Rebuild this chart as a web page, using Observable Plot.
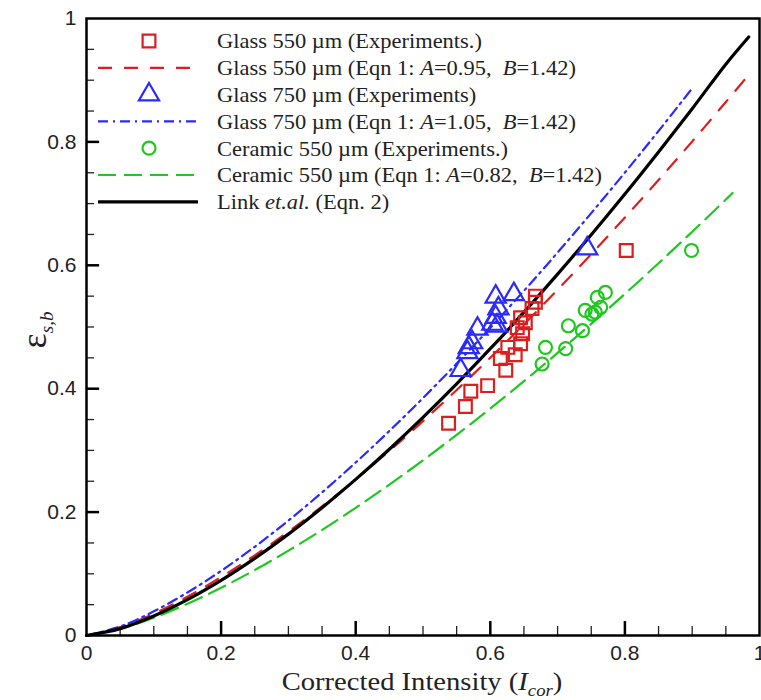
<!DOCTYPE html>
<html><head><meta charset="utf-8">
<script src="https://cdn.jsdelivr.net/npm/d3@7"></script>
<script src="https://cdn.jsdelivr.net/npm/@observablehq/plot@0.6"></script>
<style>body{margin:0;background:#fff}#chart{width:761px;height:700px}</style>
</head><body><div id="chart"></div>
<script>
// ---- data ----
const majorTicks = [0, 0.2, 0.4, 0.6, 0.8, 1];
const tickLabels = ["0", "0.2", "0.4", "0.6", "0.8", "1"];
const minorTicks = [0.05,0.1,0.15,0.25,0.3,0.35,0.45,0.5,0.55,0.65,0.7,0.75,0.85,0.9,0.95];

const glass550Exp = [[0.538,0.344],[0.563,0.371],[0.571,0.396],[0.596,0.405],[0.623,0.430],[0.615,0.449],[0.637,0.455],[0.626,0.467],[0.645,0.473],[0.648,0.489],[0.640,0.499],[0.652,0.507],[0.645,0.515],[0.662,0.530],[0.667,0.540],[0.667,0.550],[0.802,0.624]];
const glass750Exp = [[0.556,0.430],[0.566,0.459],[0.568,0.467],[0.573,0.475],[0.581,0.497],[0.603,0.505],[0.610,0.502],[0.608,0.516],[0.612,0.530],[0.608,0.549],[0.635,0.553],[0.744,0.627]];
const ceramic550Exp = [[0.677,0.440],[0.682,0.467],[0.712,0.465],[0.716,0.502],[0.737,0.494],[0.741,0.527],[0.751,0.521],[0.756,0.524],[0.764,0.532],[0.759,0.548],[0.771,0.556],[0.899,0.624]];

const glass550Fit = [[0,0],[0.05,0.0132],[0.1,0.0354],[0.15,0.0629],[0.2,0.0946],[0.25,0.1299],[0.3,0.1682],[0.35,0.2094],[0.4,0.2532],[0.45,0.2992],[0.5,0.3475],[0.55,0.3979],[0.6,0.4502],[0.65,0.5044],[0.7,0.5604],[0.75,0.6181],[0.8,0.6774],[0.85,0.7383],[0.9,0.8008],[0.95,0.8647],[0.983,0.9076]];
const glass750Fit = [[0,0],[0.05,0.0146],[0.1,0.0392],[0.15,0.0697],[0.2,0.1048],[0.25,0.1438],[0.3,0.1863],[0.35,0.2319],[0.4,0.2804],[0.45,0.3314],[0.5,0.3849],[0.55,0.4407],[0.6,0.4987],[0.65,0.5587],[0.7,0.6207],[0.75,0.6846],[0.8,0.7503],[0.85,0.8177],[0.9,0.8869]];
const ceramic550Fit = [[0,0],[0.05,0.0108],[0.1,0.0289],[0.15,0.0514],[0.2,0.0773],[0.25,0.1061],[0.3,0.1375],[0.35,0.1711],[0.4,0.2069],[0.45,0.2445],[0.5,0.2840],[0.55,0.3252],[0.6,0.3679],[0.65,0.4122],[0.7,0.4580],[0.75,0.5051],[0.8,0.5536],[0.85,0.6034],[0.9,0.6544],[0.95,0.7066],[0.96,0.7172]];
const linkEqn2 = [[0,0],[0.05,0.0112],[0.1,0.0316],[0.15,0.0581],[0.2,0.0894],[0.25,0.125],[0.3,0.1643],[0.35,0.2071],[0.4,0.2530],[0.45,0.3019],[0.5,0.3536],[0.55,0.4079],[0.6,0.4648],[0.65,0.5240],[0.7,0.5857],[0.75,0.6495],[0.8,0.7155],[0.85,0.7837],[0.9,0.8538],[0.95,0.9259],[0.984,0.970]];

const RED = "#dc1e1e", BLUE = "#2a2aff", GREEN = "#1ec81e";
const DASH_RED = "14,12", DASH_BLUE = "10,5,2,5", DASH_GREEN = "18,8";

const legendRows = [
  {kind:"square", color:RED, parts:[["Glass 550 µm (Experiments.)",false]]},
  {kind:"line", color:RED, dash:DASH_RED, w:2.2, parts:[["Glass 550 µm (Eqn 1: ",false],["A",true],["=0.95,  ",false],["B",true],["=1.42)",false]]},
  {kind:"triangle", color:BLUE, parts:[["Glass 750 µm (Experiments)",false]]},
  {kind:"line", color:BLUE, dash:DASH_BLUE, w:2.2, parts:[["Glass 750 µm (Eqn 1: ",false],["A",true],["=1.05,  ",false],["B",true],["=1.42)",false]]},
  {kind:"circle", color:GREEN, parts:[["Ceramic 550 µm (Experiments.)",false]]},
  {kind:"line", color:GREEN, dash:DASH_GREEN, w:2.2, parts:[["Ceramic 550 µm (Eqn 1: ",false],["A",true],["=0.82,  ",false],["B",true],["=1.42)",false]]},
  {kind:"line", color:"black", dash:null, w:3.2, parts:[["Link ",false],["et.al.",true],[" (Eqn. 2)",false]]}
];

const px = d => d[0], py = d => d[1];
const serif = "'Liberation Serif','Times New Roman',serif";

const svg = Plot.plot({
  width: 761, height: 700,
  marginLeft: 86, marginRight: 2, marginTop: 18, marginBottom: 65,
  style: {fontFamily: "'Liberation Sans', Arial, sans-serif", fontSize: "21px", color: "#222", background: "white", overflow: "visible"},
  x: {domain: [0, 1], ticks: majorTicks, tickFormat: d => tickLabels[majorTicks.indexOf(d)], tickSize: 0, tickPadding: 10, label: null},
  y: {domain: [0, 1], ticks: majorTicks, tickFormat: d => tickLabels[majorTicks.indexOf(d)], tickSize: 0, tickPadding: 10, label: null},
  marks: [
    Plot.ruleX(minorTicks, {x: d => d, y1: 0, y2: 0.0146, stroke: "#222", strokeWidth: 1.3}),
    Plot.ruleX(majorTicks.slice(1, -1), {x: d => d, y1: 0, y2: 0.0227, stroke: "black", strokeWidth: 2.5}),
    Plot.ruleY(minorTicks, {y: d => d, x1: 0, x2: 0.012, stroke: "#222", strokeWidth: 1.3}),
    Plot.ruleY(majorTicks.slice(1, -1), {y: d => d, x1: 0, x2: 0.0195, stroke: "black", strokeWidth: 2.5}),
    Plot.line(ceramic550Fit, {x: px, y: py, stroke: GREEN, strokeWidth: 2.2, strokeDasharray: DASH_GREEN, curve: "catmull-rom"}),
    Plot.line(glass550Fit, {x: px, y: py, stroke: RED, strokeWidth: 2.2, strokeDasharray: DASH_RED, curve: "catmull-rom"}),
    Plot.line(glass750Fit, {x: px, y: py, stroke: BLUE, strokeWidth: 2.2, strokeDasharray: DASH_BLUE, curve: "catmull-rom"}),
    Plot.line(linkEqn2, {x: px, y: py, stroke: "black", strokeWidth: 3.2, curve: "catmull-rom"}),
    Plot.dot(glass550Exp, {x: px, y: py, symbol: "square", r: 7.2, stroke: RED, strokeWidth: 2.2, fill: "none"}),
    Plot.dot(glass750Exp, {x: px, y: py, symbol: "triangle", r: 7.5, stroke: BLUE, strokeWidth: 2.2, fill: "none"}),
    Plot.dot(ceramic550Exp, {x: px, y: py, symbol: "circle", r: 6.5, stroke: GREEN, strokeWidth: 2.2, fill: "none"}),
    Plot.frame({stroke: "black", strokeWidth: 2.5})
  ]
});
document.getElementById("chart").appendChild(svg);

const s = d3.select(svg);
// legend
const lg = s.append("g").attr("class", "legend");
const rowY0 = 41, rowDy = 26.8;
legendRows.forEach((r, i) => {
  const y = rowY0 + i * rowDy;
  if (r.kind === "line") {
    lg.append("line").attr("x1", 98).attr("x2", 198).attr("y1", y).attr("y2", y)
      .attr("stroke", r.color).attr("stroke-width", r.w).attr("stroke-dasharray", r.dash);
  } else {
    const type = r.kind === "square" ? d3.symbolSquare : r.kind === "triangle" ? d3.symbolTriangle : d3.symbolCircle;
    const rr = r.kind === "square" ? 7.2 : r.kind === "triangle" ? 7.5 : 6.5;
    lg.append("path").attr("transform", `translate(149,${y})`)
      .attr("d", d3.symbol(type, Math.PI * rr * rr)())
      .attr("fill", "none").attr("stroke", r.color).attr("stroke-width", 2.2);
  }
  const t = lg.append("text").attr("transform", `translate(217,${y}) scale(1.07,1)`).attr("dy", "0.35em")
    .attr("text-anchor", "start")
    .attr("font-family", serif).attr("font-size", 21).attr("fill", "#222").style("white-space", "pre");
  r.parts.forEach(([txt, it]) => t.append("tspan").attr("font-style", it ? "italic" : "normal").text(txt));
});
// x axis title
const xt = s.append("text").attr("transform", "translate(422,690) scale(1.1,1)").attr("text-anchor", "middle")
  .attr("font-family", serif).attr("font-size", 26).attr("fill", "#222");
xt.append("tspan").text("Corrected Intensity (");
xt.append("tspan").attr("font-style", "italic").text("I");
xt.append("tspan").attr("font-style", "italic").attr("font-size", 17).attr("dy", 6).text("cor");
xt.append("tspan").attr("dy", -6).text(")");
// y axis title
const yt = s.append("text").attr("transform", "translate(46,330) rotate(-90)").attr("text-anchor", "middle")
  .attr("font-family", serif).attr("fill", "#222");
yt.append("tspan").attr("font-size", 36).text("ε");
yt.append("tspan").attr("font-size", 19).attr("font-style", "italic").attr("dy", 7).text("s,b");
</script>
</body></html>
